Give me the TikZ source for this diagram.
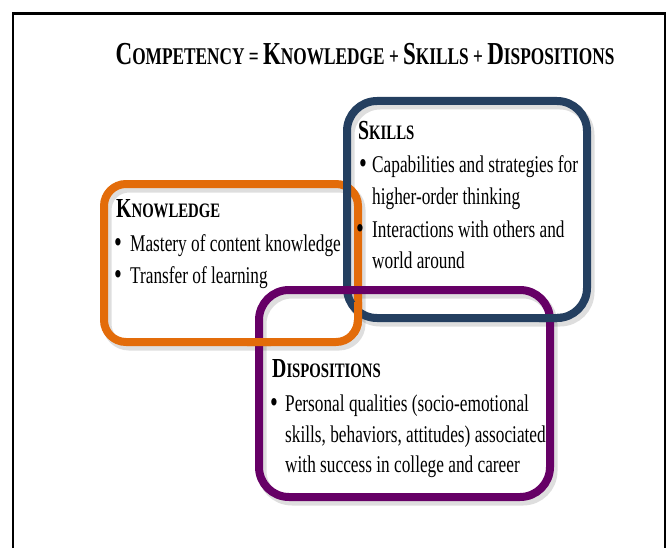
\documentclass[tikz,border=0pt]{standalone}
\usepackage{fontspec}
\setmainfont{Liberation Serif}[FakeStretch=0.72]
\usetikzlibrary{calc}
\definecolor{kor}{HTML}{E36C0A}
\definecolor{sknavy}{HTML}{243F60}
\definecolor{dpur}{HTML}{660066}
\newcommand\hsc[2]{{\fontsize{27.5}{27.5}\selectfont #1}{\fontsize{20.5}{20.5}\selectfont #2}}
\newcommand\tsc[2]{{\fontsize{32}{32}\selectfont #1}{\fontsize{24}{24}\selectfont #2}}
\tikzset{
  boxline/.style={line width=8pt, rounded corners=#1},
  boxshadow/.style={line width=9pt, rounded corners=#1, draw=black, opacity=0.13},
  body/.style={anchor=base west, inner sep=0pt, font=\fontsize{24}{24}\selectfont},
  bul/.style={anchor=base west, inner sep=0pt, font=\fontsize{31}{31}\selectfont},
  head/.style={anchor=base west, inner sep=0pt, font=\bfseries},
  titletext/.style={anchor=base, inner sep=0pt, font=\bfseries\fontsize{24}{24}\selectfont},
}
\begin{document}
\begin{tikzpicture}[x=1pt,y=-1pt]
\useasboundingbox (0,0) rectangle (668,548);
% frame
\draw[line width=2.6pt] (13,548) -- (13,13.5) -- (665,13.5) -- (665,548);
% title
\node[titletext] (title) at (365,65) {\tsc{C}{OMPETENCY} = \tsc{K}{NOWLEDGE} + \tsc{S}{KILLS} + \tsc{D}{ISPOSITIONS}};
% shadows
\draw[boxshadow=22] (107,188) rectangle (361,346);
\draw[boxshadow=30] (350,105) rectangle (590,322);
\draw[boxshadow=30] (262,294) rectangle (553,501);
% boxes
\draw[boxline=22, draw=kor] (104,184) rectangle (358,342);
\draw[boxline=30, draw=sknavy] (347,101) rectangle (587,318);
\draw[boxline=30, draw=dpur] (259,290) rectangle (550,497);
% weaving
\begin{scope}
  \clip (349,302) rectangle (372,334);
  \draw[boxline=22, draw=kor] (104,184) rectangle (358,342);
\end{scope}
\begin{scope}
  \clip (247,333) rectangle (271,352);
  \draw[boxline=22, draw=kor] (104,184) rectangle (358,342);
\end{scope}
\begin{scope}
  \clip (539,307) rectangle (562,330);
  \draw[boxline=30, draw=sknavy] (347,101) rectangle (587,318);
\end{scope}
% knowledge text
\node[head] (kh) at (116,217) {\hsc{K}{NOWLEDGE}};
\node[bul] (kb1) at (114,252) {•};
\node[body] (kt1) at (130,251) {Mastery of content knowledge};
\node[bul] (kb2) at (114,284) {•};
\node[body] (kt2) at (130,283) {Transfer of learning};
% skills text
\node[head] (sh) at (358,140) {\hsc{S}{KILLS}};
\node[bul] (sb1) at (359,173) {•};
\node[body] (st1) at (372,172) {Capabilities and strategies for};
\node[body] (st2) at (372,204) {higher-order thinking};
\node[bul] (sb2) at (356,238) {•};
\node[body] (st3) at (372,237) {Interactions with others and};
\node[body] (st4) at (372,268) {world around};
% dispositions text
\node[head] (dh) at (272,377) {\hsc{D}{ISPOSITIONS}};
\node[bul] (db1) at (270,412) {•};
\node[body] (dt1) at (285,411) {Personal qualities (socio-emotional};
\node[body] (dt2) at (285,442) {skills, behaviors, attitudes) associated};
\node[body] (dt3) at (285,472) {with success in college and career};
\end{tikzpicture}
\end{document}
